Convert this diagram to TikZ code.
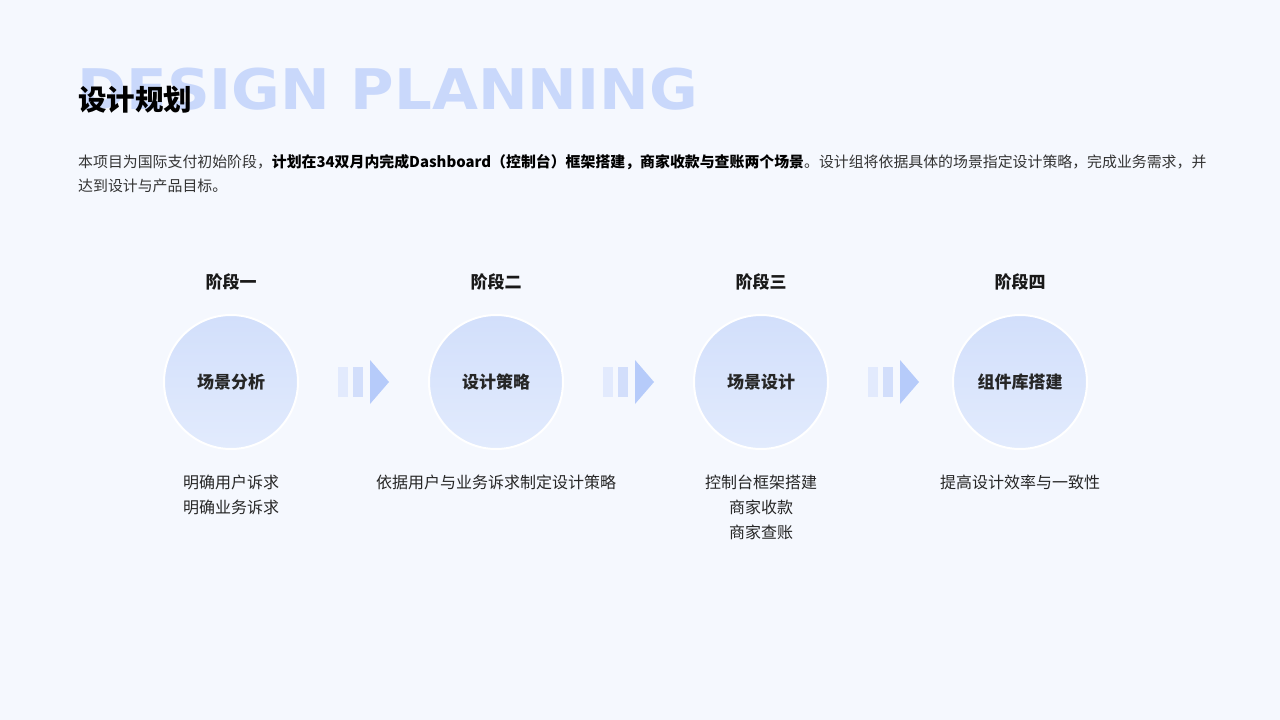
\documentclass[tikz,border=0pt]{standalone}
\usepackage{fontspec}
\setmainfont{Noto Sans CJK SC}
\newfontfamily\cjk{Noto Sans CJK SC}
\newfontfamily\bigf{DejaVu Sans}
\definecolor{bg}{HTML}{F5F8FE}
\definecolor{ghost}{HTML}{C9D8FB}
\definecolor{circA}{HTML}{D2DFFB}
\definecolor{circB}{HTML}{E2EBFD}
\definecolor{txt}{HTML}{333333}
\definecolor{bar1}{HTML}{E2EAFD}
\definecolor{bar2}{HTML}{D2DEFB}
\definecolor{tri}{HTML}{B6CBFA}
\tikzset{
  stage/.style={circle,minimum size=134pt,draw=white,line width=2pt,top color=circA,bottom color=circB,font=\fontsize{17pt}{20pt}\selectfont\bfseries,text=black!85,inner sep=0pt},
  phase/.style={font=\fontsize{17pt}{20pt}\selectfont\bfseries,text=black!90},
  desc/.style={font=\fontsize{16pt}{25pt}\selectfont,text=black!85,align=center,anchor=north}
}
\begin{document}
\begin{tikzpicture}[x=1pt,y=-1pt]
\fill[bg] (0,0) rectangle (1280,720);
\useasboundingbox (0,0) rectangle (1280,720);
\node[anchor=west,inner sep=0pt,text=ghost] (ghost) at (77,89) {\scalebox{1.06}[1]{\bigf\bfseries\fontsize{56pt}{60pt}\selectfont DESIGN PLANNING}};
\node[anchor=west,inner sep=0pt,font=\fontsize{28.5pt}{32pt}\selectfont\bfseries] (title) at (78,100) {设计规划};
\node[anchor=north west,inner sep=0pt,align=left,font=\fontsize{14.9pt}{24pt}\selectfont,text=txt] (intro) at (78,154) {本项目为国际支付初始阶段，\textbf{\color{black}计划在34双月内完成Dashboard（控制台）框架搭建，商家收款与查账两个场景}。设计组将依据具体的场景指定设计策略，完成业务需求，并\\达到设计与产品目标。};
\foreach \i/\x/\p/\c in {1/231/阶段一/场景分析,2/496/阶段二/设计策略,3/761/阶段三/场景设计,4/1020/阶段四/组件库搭建}{
  \node[stage] (s\i) at (\x,382) {\c};
  \node[phase] (p\i) at (\x,282) {\p};
}
\node[desc] (d1) at (231,471) {明确用户诉求\\明确业务诉求};
\node[desc] (d2) at (496,471) {依据用户与业务诉求制定设计策略};
\node[desc] (d3) at (761,471) {控制台框架搭建\\商家收款\\商家查账};
\node[desc] (d4) at (1020,471) {提高设计效率与一致性};
\foreach \x in {338,603,868}{
  \fill[bar1] (\x,367) rectangle ++(10,30);
  \fill[bar2] (\x+15,367) rectangle ++(10,30);
  \fill[tri] (\x+32,360) -- (\x+51,382) -- (\x+32,404) -- cycle;
}
\end{tikzpicture}
\end{document}
